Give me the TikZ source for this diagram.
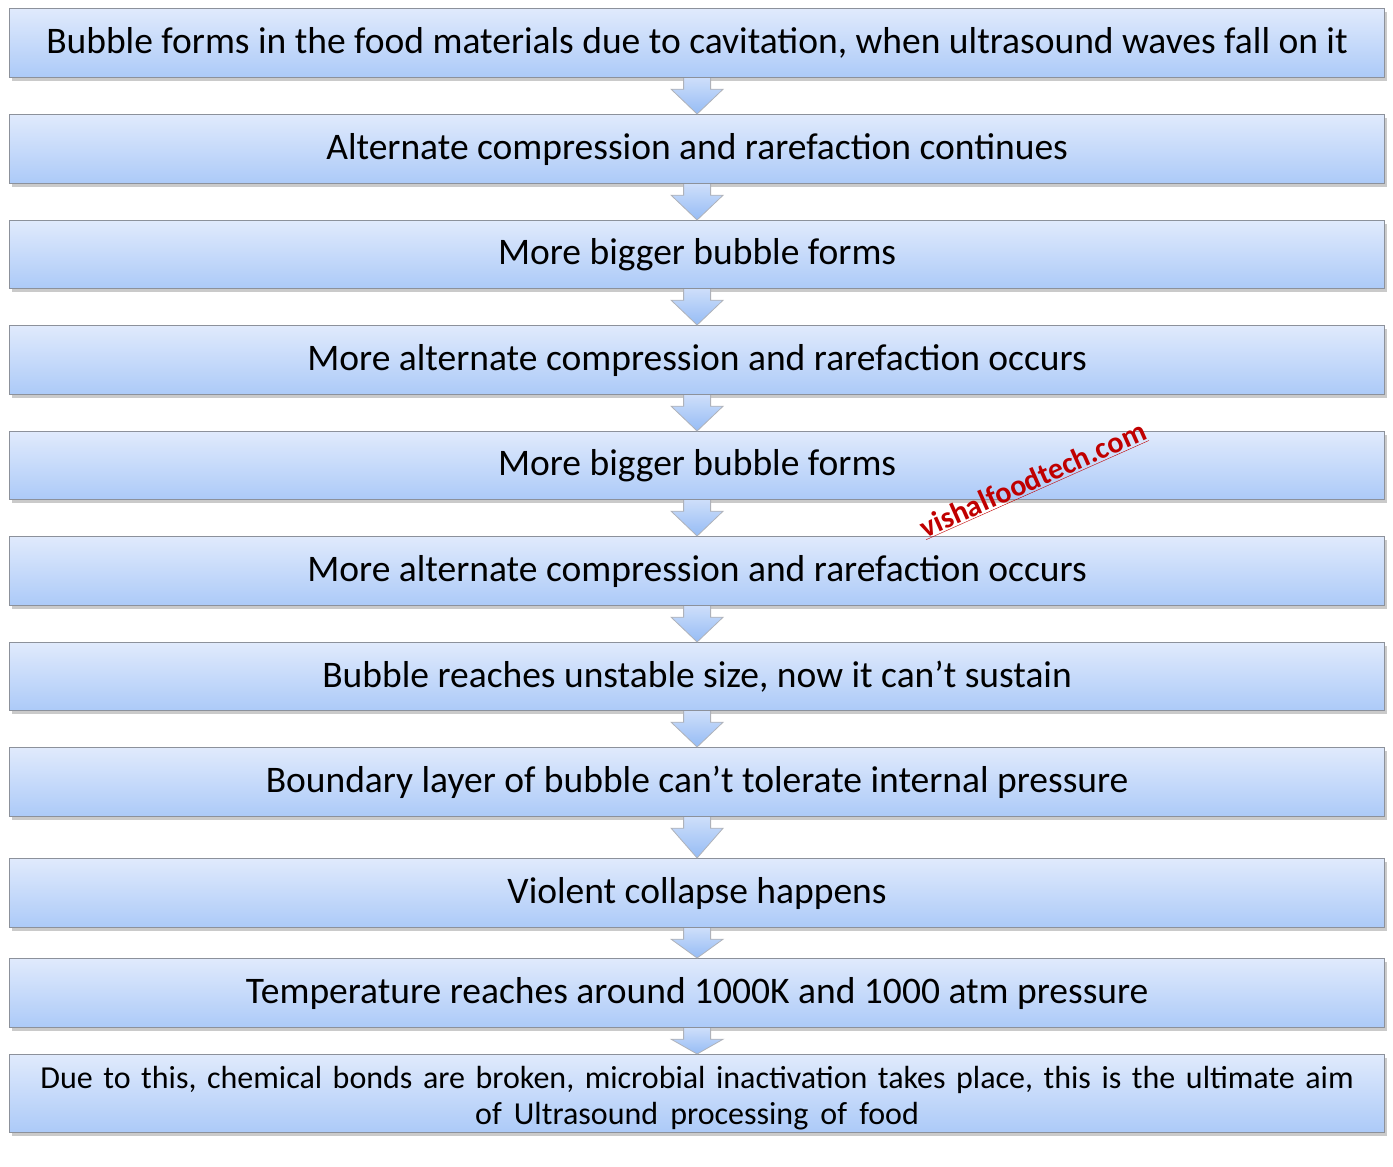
\documentclass[tikz,border=0pt]{standalone}
\usepackage{fontspec}
\setmainfont{Carlito}
\usetikzlibrary{calc,shadows}
\definecolor{boxtop}{RGB}{224,234,252}
\definecolor{boxbot}{RGB}{172,202,248}
\definecolor{boxborder}{RGB}{140,145,155}
\definecolor{arrtop}{RGB}{205,222,250}
\definecolor{arrbot}{RGB}{150,188,245}
\definecolor{wmred}{RGB}{192,0,0}
\tikzset{
  stepbox/.style={draw=boxborder, line width=1.2pt, top color=boxtop, bottom color=boxbot,
    minimum width=1375pt, inner sep=0pt, anchor=north west,
    drop shadow={shadow xshift=2pt, shadow yshift=-3pt, opacity=0.35, fill=black!60},
    font=\fontsize{37.5}{44}\selectfont},
  lasttext/.style={align=center, inner sep=0pt, font=\fontsize{32}{36}\selectfont},
  arrowshade/.style={top color=arrtop, bottom color=arrbot},
  arrowline/.style={draw=boxborder!70, line width=0.8pt, line join=miter},
  wmark/.style={text=wmred, font=\bfseries\fontsize{30}{34}\selectfont, rotate=24}
}
\begin{document}
\begin{tikzpicture}[x=1pt,y=1pt]
\useasboundingbox (0,0) rectangle (1393,-1167);
\node[stepbox, minimum height=69pt] (b1) at (9,-8) {Bubble forms in the food materials due to cavitation, when ultrasound waves fall on it};
\node[stepbox, minimum height=69pt] (b2) at (9,-114) {Alternate compression and rarefaction continues};
\node[stepbox, minimum height=68pt] (b3) at (9,-220) {More bigger bubble forms};
\node[stepbox, minimum height=69pt] (b4) at (9,-325) {More alternate compression and rarefaction occurs};
\node[stepbox, minimum height=68pt] (b5) at (9,-431) {More bigger bubble forms};
\node[stepbox, minimum height=69pt] (b6) at (9,-536) {More alternate compression and rarefaction occurs};
\node[stepbox, minimum height=68pt] (b7) at (9,-642) {Bubble reaches unstable size, now it can’t sustain};
\node[stepbox, minimum height=69pt] (b8) at (9,-747) {Boundary layer of bubble can’t tolerate internal pressure};
\node[stepbox, minimum height=69pt] (b9) at (9,-858) {Violent collapse happens};
\node[stepbox, minimum height=69pt] (b10) at (9,-958) {Temperature reaches around 1000K and 1000 atm pressure};
\node[stepbox, minimum height=78pt] (b11) at (9,-1054) {};
\node[lasttext] (b11t) at ([yshift=-5pt]b11.center)
  {\spaceskip=0.33em Due to this, chemical bonds are broken, microbial inactivation takes place, this is the ultimate aim\\ \spaceskip=0.38em of Ultrasound processing of food};
\foreach \a/\b in {b1/b2,b2/b3,b3/b4,b4/b5,b5/b6,b6/b7,b7/b8,b8/b9,b9/b10,b10/b11}{
  \shade[arrowshade] let \p1=(\a.south), \p2=(\b.north) in
    (\x1-13.5pt,\y1) -- (\x1-13.5pt,\y1-11pt) -- (\x1-26pt,\y1-11pt) -- (\x1,\y2)
    -- (\x1+26pt,\y1-11pt) -- (\x1+13.5pt,\y1-11pt) -- (\x1+13.5pt,\y1) -- cycle;
  \draw[arrowline] let \p1=(\a.south), \p2=(\b.north) in
    (\x1-13.5pt,\y1) -- (\x1-13.5pt,\y1-11pt) -- (\x1-26pt,\y1-11pt) -- (\x1,\y2)
    -- (\x1+26pt,\y1-11pt) -- (\x1+13.5pt,\y1-11pt) -- (\x1+13.5pt,\y1);
}
\node[wmark] (wm) at (1033,-480) {\underline{vishalfoodtech.com}};
\end{tikzpicture}
\end{document}
